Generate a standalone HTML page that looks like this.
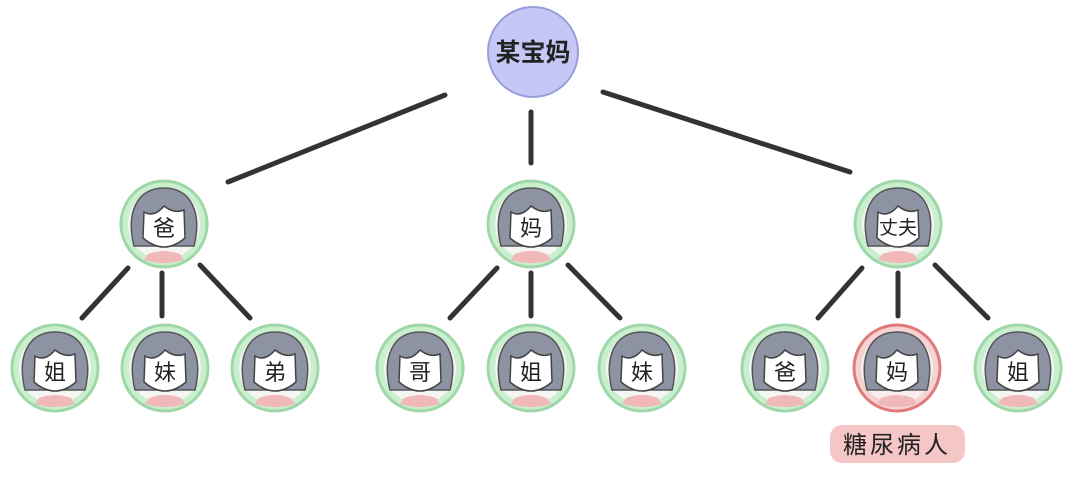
<!DOCTYPE html>
<html><head><meta charset="utf-8"><style>
body{margin:0;background:#fff;width:1080px;height:476px;overflow:hidden}
text{font-family:"Liberation Sans","Noto Sans CJK SC",sans-serif}
</style></head><body>
<svg width="1080" height="476" viewBox="0 0 1080 476">
<defs>
<g id="p">
 <circle r="43" fill="#c9efcf" stroke="#9fd8a8" stroke-width="3"/>
 <circle r="36" fill="#f3f6f3"/>
 <path d="M-30 22 C-38 -10 -28 -36 0 -36 C28 -36 38 -10 30 22 Z" fill="#8e93a3" stroke="#555" stroke-width="1.5"/>
 <path d="M-16 30 Q0 24 16 30 L20 36 Q0 42 -20 36 Z" fill="#f0b8b8"/>
 <path d="M-20 -12 Q-10 -6 0 -18 Q10 -10 20 -14 L21 14 Q0 32 -21 14 Z" fill="#fff" stroke="#444" stroke-width="1.5"/>
</g>
<g id="pr">
 <circle r="43" fill="#f6d2d2" stroke="#e07b7b" stroke-width="3"/>
 <circle r="36" fill="#f8eeee"/>
 <path d="M-30 22 C-38 -10 -28 -36 0 -36 C28 -36 38 -10 30 22 Z" fill="#8e93a3" stroke="#555" stroke-width="1.5"/>
 <path d="M-16 30 Q0 24 16 30 L20 36 Q0 42 -20 36 Z" fill="#f0b8b8"/>
 <path d="M-20 -12 Q-10 -6 0 -18 Q10 -10 20 -14 L21 14 Q0 32 -21 14 Z" fill="#fff" stroke="#444" stroke-width="1.5"/>
</g>
</defs>
<g stroke="#333" stroke-width="5" stroke-linecap="round">
<line x1="445" y1="95" x2="228" y2="182"/>
<line x1="531" y1="112" x2="531" y2="163"/>
<line x1="603" y1="92" x2="850" y2="172"/>
<line x1="128" y1="268" x2="82" y2="318"/><line x1="162" y1="273" x2="162" y2="316"/><line x1="200" y1="265" x2="250" y2="318"/>
<line x1="497" y1="268" x2="450" y2="318"/><line x1="531" y1="273" x2="531" y2="316"/><line x1="568" y1="265" x2="620" y2="318"/>
<line x1="862" y1="268" x2="818" y2="318"/><line x1="898" y1="273" x2="898" y2="316"/><line x1="935" y1="265" x2="988" y2="318"/>
</g>
<circle cx="533" cy="52" r="45" fill="#c5c8f5" stroke="#9a9ed8" stroke-width="2"/>
<text x="533" y="61" font-size="25" font-weight="bold" text-anchor="middle" fill="#222">某宝妈</text>
<g font-size="22" text-anchor="middle" fill="#222">
<use href="#p" x="164" y="224"/><text x="164" y="236">爸</text>
<use href="#p" x="531" y="224"/><text x="531" y="236">妈</text>
<use href="#p" x="898" y="224"/><text x="898" y="234" font-size="19">丈夫</text>
<use href="#p" x="55" y="368"/><text x="55" y="380">姐</text>
<use href="#p" x="165" y="368"/><text x="165" y="380">妹</text>
<use href="#p" x="275" y="368"/><text x="275" y="380">弟</text>
<use href="#p" x="420" y="368"/><text x="420" y="380">哥</text>
<use href="#p" x="531" y="368"/><text x="531" y="380">姐</text>
<use href="#p" x="642" y="368"/><text x="642" y="380">妹</text>
<use href="#p" x="785" y="368"/><text x="785" y="380">爸</text>
<use href="#pr" x="897" y="368"/><text x="897" y="380">妈</text>
<use href="#p" x="1018" y="368"/><text x="1018" y="380">姐</text>
</g>
<rect x="830" y="425" width="135" height="38" rx="12" fill="#f5c6c6"/>
<text x="897" y="453" font-size="24" text-anchor="middle" fill="#222" letter-spacing="3">糖尿病人</text>
</svg>
</body></html>
